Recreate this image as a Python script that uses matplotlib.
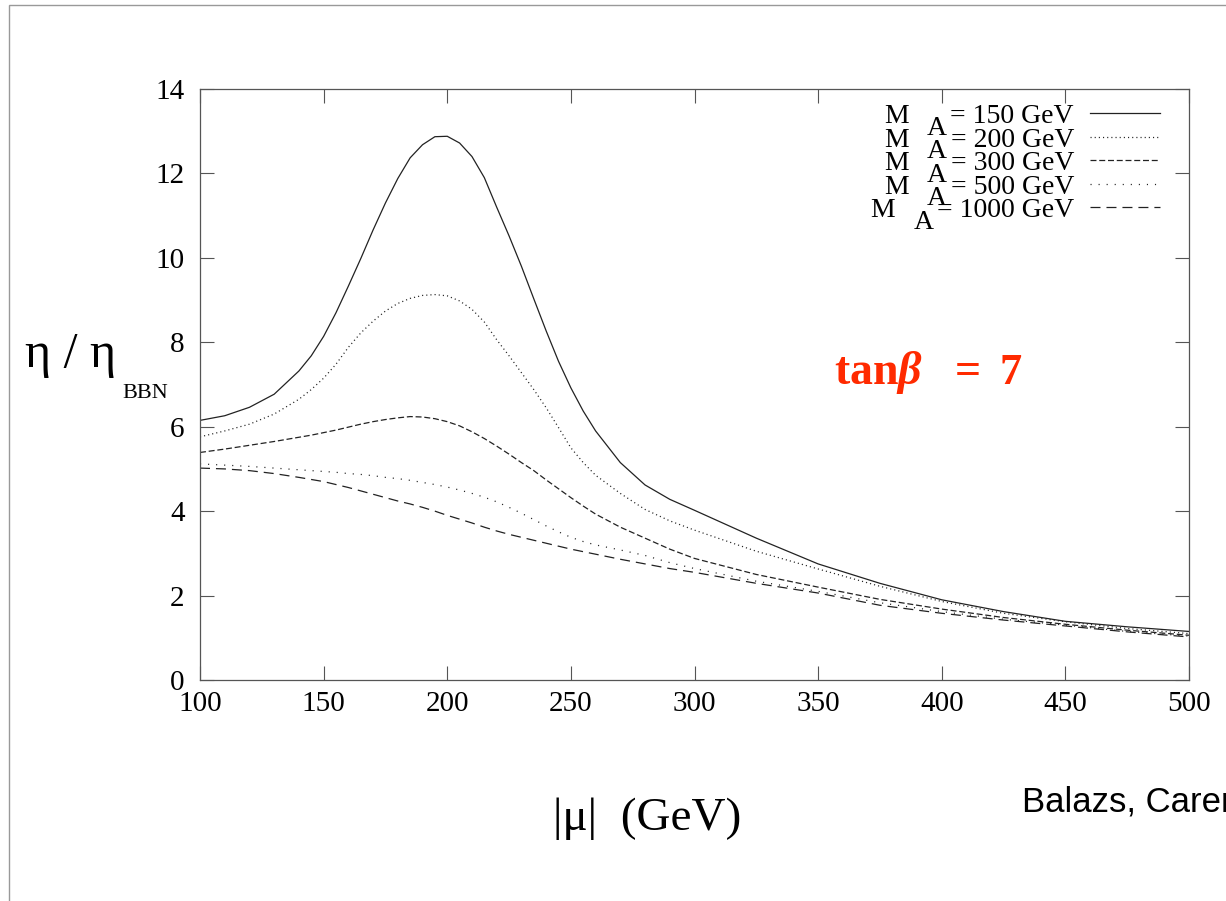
import matplotlib
matplotlib.use("Agg")
import matplotlib.pyplot as plt
from matplotlib.lines import Line2D
from matplotlib.patches import Rectangle

plt.rcParams['font.family'] = ['Liberation Serif', 'DejaVu Serif']
plt.rcParams['mathtext.fontset'] = 'custom'
plt.rcParams['mathtext.rm'] = 'Liberation Serif'
plt.rcParams['mathtext.it'] = 'Liberation Serif:italic:bold'
plt.rcParams['mathtext.bf'] = 'Liberation Serif:bold'
plt.rcParams['lines.scale_dashes'] = False

# |mu| values (GeV), finer around the peak
mu = [100, 110, 120, 130,
      140, 145, 150, 155, 160, 165, 170, 175, 180, 185, 190, 195, 200,
      205, 210, 215, 220, 225, 230, 235, 240, 245, 250, 255, 260,
      270, 280, 290, 300, 325, 350, 375, 400, 425, 450, 475, 500]

# eta / eta_BBN, one list per M_A
eta_150 = [6.15, 6.26, 6.46, 6.77,
           7.32, 7.68, 8.14, 8.70, 9.33, 9.98, 10.66, 11.30, 11.88, 12.37, 12.68, 12.87, 12.88,
           12.72, 12.40, 11.90, 11.20, 10.52, 9.80, 9.03, 8.27, 7.55, 6.92, 6.37, 5.90,
           5.15, 4.62, 4.28, 4.02, 3.36, 2.75, 2.29, 1.90, 1.62, 1.39, 1.26, 1.15]
eta_200 = [5.76, 5.90, 6.06, 6.30,
           6.65, 6.88, 7.15, 7.48, 7.88, 8.22, 8.50, 8.74, 8.92, 9.04, 9.11, 9.13, 9.10,
           8.98, 8.78, 8.48, 8.06, 7.68, 7.28, 6.88, 6.45, 5.98, 5.50, 5.15, 4.85,
           4.42, 4.04, 3.77, 3.55, 3.05, 2.63, 2.22, 1.86, 1.58, 1.38, 1.22, 1.10]
eta_300 = [5.39, 5.47, 5.56, 5.65,
           5.75, 5.80, 5.86, 5.92, 5.99, 6.06, 6.12, 6.17, 6.21, 6.24, 6.23, 6.19, 6.12,
           6.02, 5.88, 5.72, 5.54, 5.35, 5.15, 4.96, 4.74, 4.53, 4.32, 4.12, 3.93,
           3.62, 3.36, 3.10, 2.88, 2.50, 2.20, 1.91, 1.68, 1.48, 1.32, 1.18, 1.06]
eta_500 = [5.12, 5.09, 5.06, 5.02,
           4.98, 4.96, 4.94, 4.92, 4.89, 4.87, 4.84, 4.80, 4.77, 4.73, 4.68, 4.63, 4.57,
           4.50, 4.42, 4.33, 4.22, 4.09, 3.95, 3.80, 3.65, 3.51, 3.38, 3.28, 3.20,
           3.08, 2.95, 2.78, 2.64, 2.34, 2.10, 1.83, 1.62, 1.44, 1.30, 1.15, 1.04]
eta_1000 = [5.02, 5.00, 4.96, 4.89,
            4.80, 4.75, 4.70, 4.63, 4.56, 4.48, 4.40, 4.32, 4.24, 4.17, 4.09, 4.00, 3.90,
            3.81, 3.72, 3.62, 3.53, 3.45, 3.38, 3.31, 3.24, 3.17, 3.10, 3.04, 2.98,
            2.86, 2.75, 2.64, 2.55, 2.29, 2.06, 1.77, 1.58, 1.42, 1.28, 1.14, 1.02]

series = [eta_150, eta_200, eta_300, eta_500, eta_1000]
labels = ['150', '200', '300', '500', '1000']
styles = ['-', (0, (0.8, 2.2)), (0, (4.3, 2.0)), (0, (0.8, 5.0)), (0, (7.2, 4.3))]

fig = plt.figure(figsize=(12.26, 9.01), dpi=100)
W, H = 1226.0, 901.0

# slide frame
fig.add_artist(Rectangle((9 / W, -0.1), 1.2, (896 / H) + 0.1, transform=fig.transFigure,
                         fill=False, edgecolor='#999999', linewidth=1.0))

ax = fig.add_axes([200 / W, (H - 680) / H, 989 / W, 591 / H])

for vals, ls in zip(series, styles):
    ax.plot(mu, vals, color='#222222', linewidth=0.9, linestyle=ls)

ax.set_xlim(100, 500)
ax.set_ylim(0, 14)
ax.set_xticks(range(100, 501, 50))
ax.set_yticks(range(0, 15, 2))
ax.tick_params(direction='in', length=10, width=0.8, color='#555555',
               top=True, right=True, labelsize=21)
ax.tick_params(axis='x', pad=8)
ax.tick_params(axis='y', pad=11)
for sp in ax.spines.values():
    sp.set_color('#555555')
    sp.set_linewidth(0.9)

# hand-drawn key: "M", lowered "A", then "= 150 GeV" right-aligned
row0, step = 0.9594, 0.0398
for i, (lab, ls) in enumerate(zip(labels, styles)):
    yr = row0 - i * step
    t_main = ax.text(0.8837, yr - 0.017, '= ' + lab + ' GeV', transform=ax.transAxes,
                     ha='right', va='baseline', fontsize=20)
    t_a = ax.annotate('A', xy=(0, 0), xycoords=t_main, xytext=(-2.5, -8.5),
                      textcoords='offset points', ha='right', va='bottom', fontsize=20)
    ax.annotate('M', xy=(0, 0), xycoords=t_a, xytext=(-13, 8.5),
                textcoords='offset points', ha='right', va='bottom', fontsize=20)
    ax.add_line(Line2D([0.900, 0.9707], [yr, yr], transform=ax.transAxes,
                       color='#222222', linewidth=0.9, linestyle=ls))

# axis labels placed like the slide
fig.text(25 / W, 1 - 367 / H, 'η / η', fontsize=36, va='baseline', ha='left')
fig.text(122 / W, 1 - 398 / H, 'BBN', fontsize=16, va='baseline', ha='left')
fig.text(647 / W, 1 - 830 / H, '|μ|  (GeV)', fontsize=34, va='baseline', ha='center')

red = '#ff2a00'
fig.text(834 / W, 1 - 384 / H, r'$\mathbf{tan}\beta$', fontsize=33, color=red,
         va='baseline', ha='left')
fig.text(955 / W, 1 - 384 / H, '=', fontsize=33, color=red, weight='bold',
         va='baseline', ha='left')
fig.text(999 / W, 1 - 384 / H, '7', fontsize=32, color=red, weight='bold',
         va='baseline', ha='left')

fig.text(1022 / W, 1 - 811 / H, 'Balazs, Carena', fontsize=25, va='baseline', ha='left',
         family=['Liberation Sans', 'DejaVu Sans'])

fig.savefig('out.png', dpi=100)
